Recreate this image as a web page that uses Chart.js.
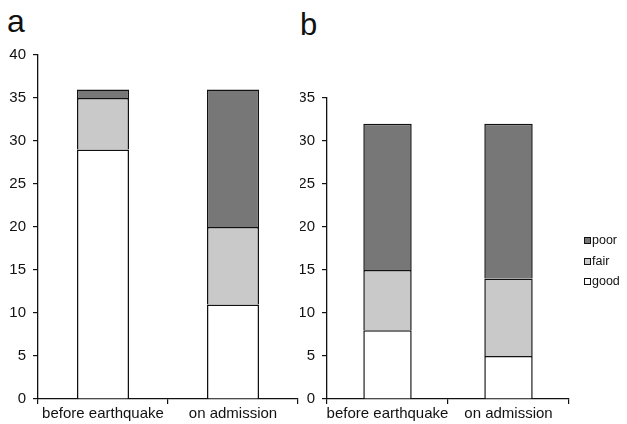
<!DOCTYPE html>
<html>
<head>
<meta charset="utf-8">
<script src="https://cdn.jsdelivr.net/npm/chart.js@4/dist/chart.umd.min.js"></script>
<style>
  html, body { margin: 0; padding: 0; background: #fff; }
  body { width: 627px; height: 424px; position: relative; overflow: hidden; font-family: "Liberation Sans", Arial, sans-serif; color: #111; }
  .panel { position: absolute; top: 0; height: 424px; }
  .plabel { position: absolute; line-height: 1; color: #111; }
  .legend { position: absolute; left: 584px; top: 232px; font-size: 12.5px; }
  .legend div { position: relative; height: 20.5px; line-height: 16px; padding-left: 8px; }
  .legend span.sw { position: absolute; left: 0; top: 5px; width: 5px; height: 5px; border: 1px solid #111; }
</style>
</head>
<body>
<div class="plabel" id="la" style="left:7px; top:5px; font-size:32px;">a</div>
<div class="plabel" id="lb" style="left:300px; top:9px; font-size:31px;">b</div>
<div class="panel" style="left:0; width:310px;"><canvas id="ca"></canvas></div>
<div class="panel" style="left:300px; width:327px;"><canvas id="cb"></canvas></div>
<div class="legend" id="legend"></div>
<script>
// ---- data ----
const categories = ["before earthquake", "on admission"];
const seriesNames = ["good", "fair", "poor"];
const aGood = [29, 11];
const aFair = [6, 9];
const aPoor = [1, 16];
const bGood = [8, 5];
const bFair = [7, 9];
const bPoor = [17, 18];
const aTicksMax = 40;
const bTicksMax = 35;

const colors = { good: "#ffffff", fair: "#c9c9c9", poor: "#777777" };

function makeDatasets(good, fair, poor) {
  const vals = { good, fair, poor };
  return seriesNames.map(n => ({
    label: n,
    data: vals[n],
    backgroundColor: colors[n],
    borderColor: "#111",
    borderWidth: 1.5,
    borderSkipped: "start",
    barPercentage: 0.4,
    categoryPercentage: 1.0
  }));
}

function makeChart(id, datasets, maxY, axisWidth, padTop, padRight) {
  return new Chart(document.getElementById(id), {
    type: "bar",
    data: { labels: categories, datasets },
    options: {
      responsive: true,
      maintainAspectRatio: false,
      animation: false,
      layout: { padding: { top: padTop, right: padRight, left: 0, bottom: 0 } },
      plugins: { legend: { display: false }, tooltip: { enabled: false }, title: { display: false } },
      scales: {
        x: {
          stacked: true,
          offset: true,
          grid: { display: true, offset: true, drawOnChartArea: false, drawTicks: true, tickLength: 5, color: "#111", lineWidth: 1.2 },
          border: { display: true, color: "#111", width: 1.3 },
          ticks: { color: "#111", font: { family: "Liberation Sans, Arial", size: 15 }, padding: 1, maxRotation: 0, autoSkip: false },
          afterFit: s => { s.height = 25; }
        },
        y: {
          stacked: true,
          min: 0,
          max: maxY,
          ticks: { stepSize: 5, color: "#111", font: { family: "Liberation Sans, Arial", size: 15 }, padding: 7 },
          grid: { display: true, drawOnChartArea: false, drawTicks: true, tickLength: 5, color: "#111", lineWidth: 1.2 },
          border: { display: true, color: "#111", width: 1.3 },
          afterFit: s => { s.width = axisWidth; }
        }
      }
    }
  });
}

makeChart("ca", makeDatasets(aGood, aFair, aPoor), aTicksMax, 38, 55, 12);
makeChart("cb", makeDatasets(bGood, bFair, bPoor), bTicksMax, 27, 98, 58);

// legend (reverse order: poor, fair, good)
const lg = document.getElementById("legend");
seriesNames.slice().reverse().forEach(n => {
  const d = document.createElement("div");
  const sw = document.createElement("span");
  sw.className = "sw";
  sw.style.background = colors[n];
  d.appendChild(sw);
  d.appendChild(document.createTextNode(n));
  lg.appendChild(d);
});
</script>
</body>
</html>
